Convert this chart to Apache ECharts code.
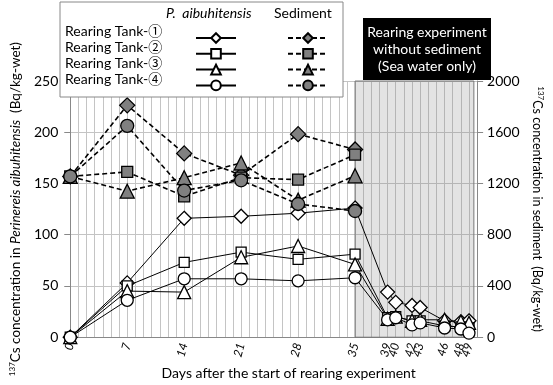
<!DOCTYPE html>
<html>
<head>
<meta charset="utf-8">
<script src="https://cdn.jsdelivr.net/npm/echarts@6/dist/echarts.min.js"></script>
<style>
html, body { margin: 0; padding: 0; background: #fff; }
#chart { width: 553px; height: 385px; }
</style>
</head>
<body>
<div id="chart"></div>
<script>
// days on which samples were taken
const wormDays = [0, 7, 14, 21, 28, 35, 39, 40, 42, 43, 46, 48, 49];
const sedDays = [0, 7, 14, 21, 28, 35];
const xLabelDays = [0, 7, 14, 21, 28, 35, 39, 40, 42, 43, 46, 48, 49];

const tankNames = ['Rearing Tank-①', 'Rearing Tank-②', 'Rearing Tank-③', 'Rearing Tank-④'];

// 137Cs in P. aibuhitensis (Bq/kg-wet), left axis
const wormTank1 = [0, 53, 116, 118, 121, 126, 44, 34, 31, 29, 16, 15, 16];
const wormTank2 = [0, 50, 73, 83, 76, 81, 19, 20, 16, 16, 11, 10, 9];
const wormTank3 = [0, 45, 44, 78, 89, 71, 18, 20, 16, 17, 17, 15, 14];
const wormTank4 = [0, 36, 57, 57, 55, 58, 17, 19, 12, 14, 9, 8, 4];

// 137Cs in sediment (Bq/kg-wet), right axis
const sedTank1 = [1255, 1810, 1435, 1265, 1585, 1465];
const sedTank2 = [1255, 1290, 1100, 1245, 1230, 1425];
const sedTank3 = [1255, 1140, 1245, 1360, 1070, 1260];
const sedTank4 = [1255, 1650, 1145, 1225, 1040, 985];

const symbols = ['diamond', 'rect', 'triangle', 'circle'];
const symbolSizes = [14, 10, 13, 12];

const FONT = 'Lato';
const CJK = '"Noto Sans CJK JP"';

function zip(days, vals) {
  return days.map((d, i) => [d, vals[i]]);
}

const chart = echarts.init(document.getElementById('chart'));

const wormSeries = [wormTank1, wormTank2, wormTank3, wormTank4].map((vals, i) => ({
  name: tankNames[i],
  type: 'line',
  yAxisIndex: 0,
  data: zip(wormDays, vals),
  symbol: symbols[i],
  symbolSize: symbolSizes[i],
  lineStyle: { color: '#000', width: 1 },
  itemStyle: { color: '#fff', borderColor: '#000', borderWidth: 1.3 },
  z: 3
}));

const sedSeries = [sedTank1, sedTank2, sedTank3, sedTank4].map((vals, i) => ({
  name: 'Sediment ' + (i + 1),
  type: 'line',
  yAxisIndex: 1,
  data: zip(sedDays, vals),
  symbol: symbols[i],
  symbolSize: symbolSizes[i] + 1,
  lineStyle: { color: '#000', width: 1.6, type: [5, 3] },
  itemStyle: { color: '#808080', borderColor: '#000', borderWidth: 1.3 },
  z: 4
}));

// sea water only period
wormSeries[0].markArea = {
  silent: true,
  itemStyle: { color: 'rgba(128,128,128,0.22)', borderColor: '#777', borderWidth: 1 },
  data: [[{ xAxis: 35 }, { xAxis: 49.6 }]]
};

const option = {
  animation: false,
  textStyle: { fontFamily: FONT },
  grid: { left: 56, right: 57, top: 81, bottom: 42 },
  xAxis: {
    type: 'value',
    min: 0,
    max: 50,
    interval: 1,
    name: 'Days after the start of rearing experiment',
    nameLocation: 'middle',
    nameGap: 28,
    nameTextStyle: { fontFamily: FONT, fontSize: 14, color: '#000', padding: [0, 0, 0, 30] },
    axisLine: { lineStyle: { color: '#888' } },
    axisTick: { show: false },
    splitLine: { show: true, lineStyle: { color: '#c4c4c4', width: 1 } },
    axisLabel: {
      rotate: 75,
      margin: 6,
      fontFamily: FONT,
      fontSize: 12,
      fontStyle: 'italic',
      color: '#000',
      formatter: v => (xLabelDays.indexOf(v) >= 0 ? String(v) : '')
    }
  },
  yAxis: [
    {
      type: 'value',
      min: 0,
      max: 250,
      interval: 50,
      name: '{sup|137}Cs concentration in {it|Perinereis aibuhitensis}  (Bq/kg-wet)',
      nameLocation: 'middle',
      nameRotate: 90,
      nameGap: 40,
      nameTextStyle: {
        fontFamily: FONT, fontSize: 13.5, color: '#000',
        rich: {
          sup: { fontSize: 8, verticalAlign: 'top', lineHeight: 16, fontFamily: FONT },
          it: { fontStyle: 'italic', fontSize: 13.5, fontFamily: FONT }
        }
      },
      axisLine: { show: true, lineStyle: { color: '#888' } },
      axisTick: { show: true, length: 6, lineStyle: { color: '#888' } },
      splitLine: { show: true, lineStyle: { color: '#c4c4c4', width: 1 } },
      axisLabel: { fontFamily: FONT, fontSize: 14, color: '#000', margin: 12 }
    },
    {
      type: 'value',
      min: 0,
      max: 2000,
      interval: 400,
      position: 'right',
      name: '{sup|137}Cs concentration in sediment  (Bq/kg-wet)',
      nameLocation: 'middle',
      nameRotate: -90,
      nameGap: 45,
      nameTextStyle: {
        fontFamily: FONT, fontSize: 12.5, color: '#000',
        rich: {
          sup: { fontSize: 8, verticalAlign: 'top', lineHeight: 16, fontFamily: FONT }
        }
      },
      axisLine: { show: true, lineStyle: { color: '#888' } },
      axisTick: { show: true, length: 6, lineStyle: { color: '#888' } },
      splitLine: { show: false },
      axisLabel: {
        fontFamily: FONT, fontSize: 14, color: '#000', margin: 10,
        formatter: v => String(v)
      }
    }
  ],
  legend: [
    {
      data: tankNames,
      orient: 'vertical',
      left: 190,
      top: 27,
      itemWidth: 40,
      itemHeight: 12,
      itemGap: 4,
      selectedMode: false,
      formatter: () => '',
      z: 6
    },
    {
      data: sedSeries.map(s => s.name),
      orient: 'vertical',
      left: 282,
      top: 27,
      itemWidth: 40,
      itemHeight: 12,
      itemGap: 4,
      selectedMode: false,
      formatter: () => '',
      z: 6
    }
  ],
  graphic: [
    {
      type: 'rect', z: 5,
      shape: { x: 60, y: 2, width: 283, height: 95 },
      style: { fill: '#fff', stroke: '#888', lineWidth: 1 }
    },
    {
      type: 'text', z: 7, left: 166, top: 6,
      style: { text: 'P.  aibuhitensis', font: 'italic 14px ' + FONT, fill: '#000' }
    },
    {
      type: 'text', z: 7, left: 274, top: 6,
      style: { text: 'Sediment', font: '14px ' + FONT, fill: '#000' }
    },
    ...tankNames.map((t, i) => ({
      type: 'text', z: 7, left: 65, top: 24 + i * 16,
      style: {
        text: '{a|' + t.slice(0, -1) + '}{b|' + t.slice(-1) + '}',
        rich: {
          a: { fontFamily: FONT, fontSize: 14, fill: '#000', lineHeight: 17 },
          b: { fontFamily: CJK, fontSize: 14, fill: '#000', lineHeight: 17 }
        }
      }
    })),
    {
      type: 'rect', z: 5,
      shape: { x: 363, y: 18, width: 128, height: 62 },
      style: { fill: '#000' }
    },
    {
      type: 'text', z: 7, x: 427, y: 49,
      style: {
        text: 'Rearing experiment\nwithout sediment\n(Sea water only)',
        font: '14px ' + FONT, fill: '#fff', align: 'center', verticalAlign: 'middle', lineHeight: 17
      }
    }
  ],
  series: [...wormSeries, ...sedSeries]
};

chart.setOption(option);
</script>
</body>
</html>
